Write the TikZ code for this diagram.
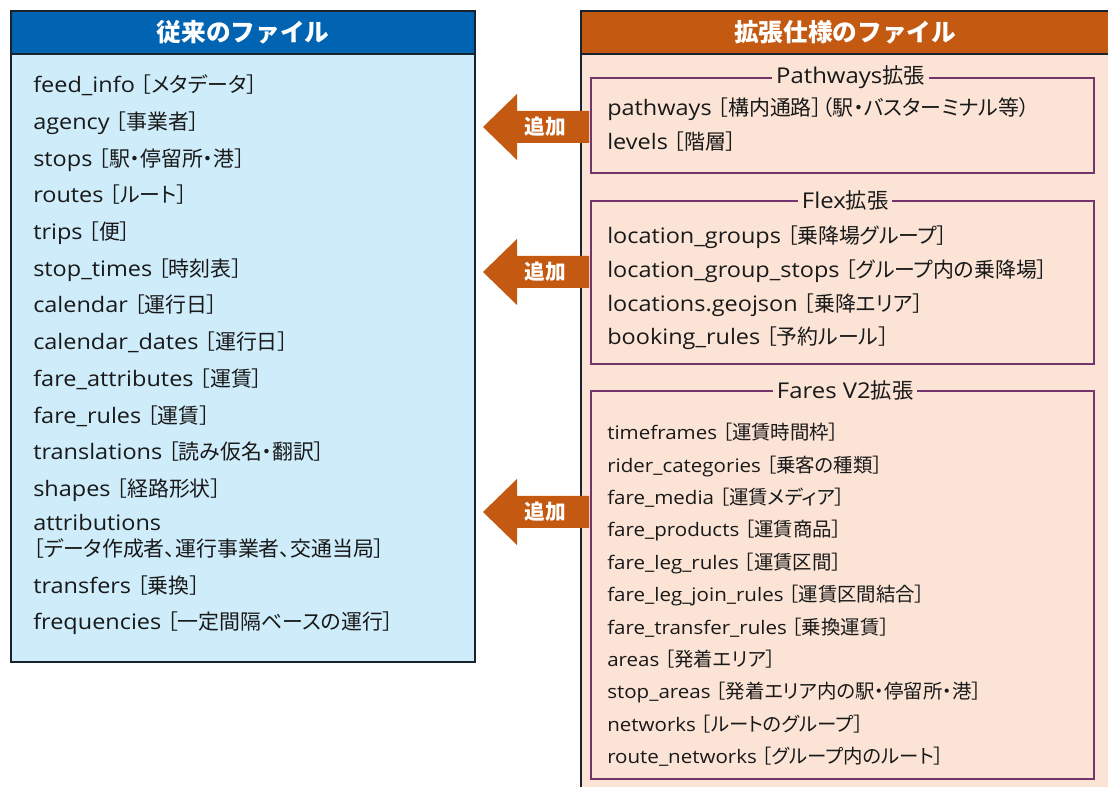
\documentclass[tikz,border=0pt]{standalone}
\usepackage{fontspec}
\setmainfont[FakeStretch=1.1]{Open Sans}
\newfontfamily\jph{Noto Sans CJK JP}
\newfontfamily\jpf[RawFeature=+palt, Scale=0.98]{Noto Sans CJK JP}
\newfontfamily\jpfs[RawFeature=+palt, Scale=1.04]{Noto Sans CJK JP}
\newcommand\J[1]{{\jpf #1}}
\newcommand\K[1]{{\jpfs #1}}
\definecolor{hdblue}{RGB}{0,100,178}
\definecolor{bdblue}{RGB}{206,236,250}
\definecolor{hdorange}{RGB}{196,89,17}
\definecolor{bdpeach}{RGB}{251,228,214}
\definecolor{grpline}{RGB}{118,52,108}
\definecolor{edge}{RGB}{25,35,45}
\definecolor{txt}{RGB}{25,25,25}
\tikzset{
  boxbody/.style={draw=edge, line width=1.5pt, anchor=north west, inner sep=0pt},
  hdtext/.style={text=white, font=\jph\fontsize{18.5pt}{20pt}\selectfont\bfseries},
  item/.style={anchor=west, inner sep=0pt, text=txt, font=\fontsize{16pt}{18pt}\selectfont, text height=1.18em, text depth=0.02em},
  itemsm/.style={item, font=\fontsize{14pt}{16pt}\selectfont},
  grpbox/.style={draw=grpline, line width=1.5pt, anchor=north west, inner sep=0pt, minimum width=377.25pt},
  gtitle/.style={fill=bdpeach, text=txt, inner xsep=3pt, inner ysep=1pt, font=\fontsize{16.3pt}{18pt}\selectfont},
  addarrow/.style={fill=hdorange},
  addlbl/.style={text=white, inner sep=0pt, font=\jph\fontsize{15.5pt}{17pt}\selectfont\bfseries}
}
\begin{document}
\begin{tikzpicture}[x=0.75pt,y=-0.75pt]
\clip (0,0) rectangle (1108,787);
\fill[white] (0,0) rectangle (1108,787);
% ---------- left box ----------
\node[boxbody, fill=bdblue, minimum width=348pt, minimum height=488.25pt] (oldbox) at (10,10) {};
\node[boxbody, fill=hdblue, minimum width=348pt, minimum height=32.25pt] (oldhead) at (10,10) {};
\node[hdtext] (oldtitle) at (oldhead.center) {従来のファイル};
\node[item] (o1) at (33,85) {feed\_info \J{［メタデータ］}};
\node[item] (o2) at (33,121.7) {agency \J{［事業者］}};
\node[item] (o3) at (33,158.4) {stops \J{［駅・停留所・港］}};
\node[item] (o4) at (33,195.1) {routes \J{［ルート］}};
\node[item] (o5) at (33,231.8) {trips \J{［便］}};
\node[item] (o6) at (33,268.5) {stop\_times \J{［時刻表］}};
\node[item] (o7) at (33,305.2) {calendar \J{［運行日］}};
\node[item] (o8) at (33,341.9) {calendar\_dates \J{［運行日］}};
\node[item] (o9) at (33,378.6) {fare\_attributes \J{［運賃］}};
\node[item] (o10) at (33,415.3) {fare\_rules \J{［運賃］}};
\node[item] (o11) at (33,452) {translations \J{［読み仮名・翻訳］}};
\node[item] (o12) at (33,488.7) {shapes \J{［経路形状］}};
\node[item] (o13) at (33,523) {attributions};
\node[item] (o13b) at (33,549) {\J{［データ作成者、運行事業者、交通当局］}};
\node[item] (o14) at (33,586) {transfers \J{［乗換］}};
\node[item] (o15) at (33,622) {frequencies \J{［一定間隔ベースの運行］}};
% ---------- right box ----------
\node[boxbody, fill=bdpeach, minimum width=405pt, minimum height=600pt] (newbox) at (580,10) {};
\node[boxbody, fill=hdorange, minimum width=405pt, minimum height=32.25pt] (newhead) at (580,10) {};
\node[hdtext] (newtitle) at (845,32) {拡張仕様のファイル};
% Pathways
\node[grpbox, minimum height=71.25pt] (gpath) at (590,77) {};
\node[gtitle] (tpath) at ([xshift=6pt]gpath.north) {Pathways\J{拡張}};
\node[item] (p1) at (607,108) {pathways \J{［構内通路］（駅・バスターミナル等）}};
\node[item] (p2) at (607,142) {levels \J{［階層］}};
% Flex
\node[grpbox, minimum height=122.25pt] (gflex) at (590,200) {};
\node[gtitle] (tflex) at ([xshift=2pt]gflex.north) {Flex\J{拡張}};
\node[item] (f1) at (607,236) {location\_groups \J{［乗降場グループ］}};
\node[item] (f2) at (607,270) {location\_group\_stops \J{［グループ内の乗降場］}};
\node[item] (f3) at (607,304) {locations.geojson \J{［乗降エリア］}};
\node[item] (f4) at (607,337) {booking\_rules \J{［予約ルール］}};
% Fares V2
\node[grpbox, minimum height=291pt] (gfare) at (590,390) {};
\node[gtitle] (tfare) at ([xshift=2pt]gfare.north) {Fares V2\J{拡張}};
\node[itemsm] (v1) at (607,432) {timeframes \K{［運賃時間枠］}};
\node[itemsm] (v2) at (607,464.4) {rider\_categories \K{［乗客の種類］}};
\node[itemsm] (v3) at (607,496.8) {fare\_media \K{［運賃メディア］}};
\node[itemsm] (v4) at (607,529.2) {fare\_products \K{［運賃商品］}};
\node[itemsm] (v5) at (607,561.6) {fare\_leg\_rules \K{［運賃区間］}};
\node[itemsm] (v6) at (607,594) {fare\_leg\_join\_rules \K{［運賃区間結合］}};
\node[itemsm] (v7) at (607,626.4) {fare\_transfer\_rules \K{［乗換運賃］}};
\node[itemsm] (v8) at (607,658.8) {areas \K{［発着エリア］}};
\node[itemsm] (v9) at (607,691.2) {stop\_areas \K{［発着エリア内の駅・停留所・港］}};
\node[itemsm] (v10) at (607,723.6) {networks \K{［ルートのグループ］}};
\node[itemsm] (v11) at (607,756) {route\_networks \K{［グループ内のルート］}};
% ---------- arrows ----------
\coordinate (a1) at (483,127);
\coordinate (a2) at (483,272);
\coordinate (a3) at (483,512);
\foreach \a in {a1,a2,a3}{
  \fill[addarrow] (\a) -- ++(34,-33) -- ++(0,17) -- ++(72,0) -- ++(0,32) -- ++(-72,0) -- ++(0,17) -- cycle;
}
\node[addlbl] (l1) at (545,127) {追加};
\node[addlbl] (l2) at (545,272) {追加};
\node[addlbl] (l3) at (545,512) {追加};
\end{tikzpicture}
\end{document}
